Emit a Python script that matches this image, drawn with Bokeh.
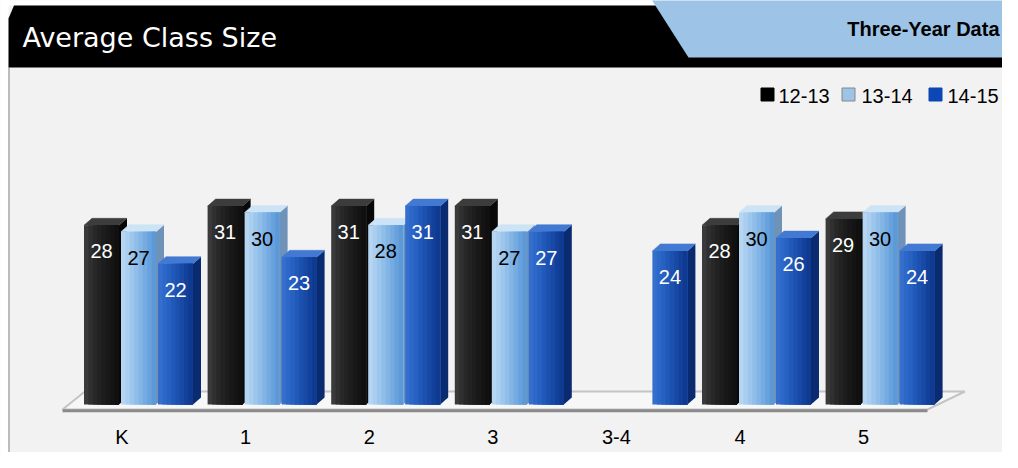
from bokeh.plotting import figure
from bokeh.models import Range1d
from bokeh.core.properties import value
from bokeh.embed import file_html
from bokeh.resources import INLINE

# ---------------- data ----------------
categories = ["K", "1", "2", "3", "3-4", "4", "5"]
series_names = ["12-13", "13-14", "14-15"]
vals_1213 = [28, 31, 31, 31, None, 28, 29]
vals_1314 = [27, 30, 28, 27, None, 30, 30]
vals_1415 = [22, 23, 31, 27, 24, 26, 24]
title_text = "Average Class Size"
tab_text = "Three-Year Data"

# ---------------- geometry / style ----------------
W, H = 1002, 452
px_x = 123.6          # pixels per category
px_y = 6.4            # pixels per unit of class size
X0 = -121.5 / px_x
X1 = X0 + W / px_x
Y1 = 404 / px_y
Y0 = Y1 - H / px_y


def X(img_x):
    return X0 + img_x / px_x


def Y(img_y):
    return Y1 - img_y / px_y


p = figure(width=W, height=H, output_backend="svg", toolbar_location=None,
           x_axis_type=None, y_axis_type=None, min_border=0,
           x_range=Range1d(X0, X1), y_range=Range1d(Y0, Y1))
p.outline_line_color = None
p.background_fill_color = "#f2f2f2"
p.border_fill_color = "#f2f2f2"
p.grid.visible = False

# white page around the panel
p.patch([X(-5), X(8), X(8), X(-5)], [Y(-5), Y(-5), Y(470), Y(470)],
        fill_color="white", line_color=None)
p.patch([X(-5), X(1020), X(1020), X(-5)], [Y(-5), Y(-5), Y(5), Y(5)],
        fill_color="white", line_color=None)
# panel border
p.line([X(8.5), X(8.5)], [Y(67), Y(470)], line_color="#a8a8a8", line_width=1.5)

# header: black band
p.patch([X(8), X(13.5), X(1020), X(1020), X(8)],
        [Y(18), Y(5), Y(5), Y(67), Y(67)], fill_color="black", line_color=None)
# header: light blue tab
p.patch([X(651), X(1008), X(1020), X(1020), X(688)],
        [Y(-1), Y(-1), Y(10), Y(57), Y(57)], fill_color="#9dc3e6", line_color=None)

p.text([X(22)], [Y(37)], text=[title_text], text_color="white",
       text_font=value("DejaVu Sans"), text_font_size="27px",
       text_baseline="middle", text_align="left")
p.text([X(999)], [Y(28)], text=[tab_text], text_color="black",
       text_font=value("Liberation Sans"), text_font_size="20px",
       text_font_style="bold", text_baseline="middle", text_align="right")

# floor slab
ncat = len(categories)
fl, fr = -0.481, ncat - 1 + 0.517
bl, br = -0.30, ncat - 1 + 0.82
yf, yb = -0.78, 2.03
p.patch([fl, bl, br, fr], [yf, yb, yb, yf], fill_color="#f7f7f7",
        line_color="#c4c4c4", line_width=2)
p.line([fl, fr], [yf - 0.2, yf - 0.2], line_color="#8a8a8a", line_width=3)

# bars
group_off = 16.5 / px_x
step = 37 / px_x
bw = 35 / px_x
ddx = 8 / px_x
ddy = 7 / px_y
nstrip = 8

styles = [
    dict(front=["#3a3a3a", "#303030", "#282828", "#222222", "#1d1d1d", "#181818", "#141414", "#101010"],
         side="#080808", top="#3c3c3c", label="white"),
    dict(front=["#b6d5f2", "#aacef0", "#9dc6ec", "#90bee9", "#82b4e5", "#75abe1", "#68a2dc", "#5c99d6"],
         side="#6f93b8", top="#cde3f6", label="black"),
    dict(front=["#346fcf", "#2d68c9", "#2761c2", "#2159b9", "#1c51af", "#1749a5", "#12419b", "#0f3a90"],
         side="#0a2b70", top="#4279d2", label="white"),
]

all_vals = [vals_1213, vals_1314, vals_1415]
for s, (vals, st) in enumerate(zip(all_vals, styles)):
    xs, tops = [], []
    for i, v in enumerate(vals):
        if v is None:
            continue
        xs.append(i + group_off + (s - 1) * step)
        tops.append(v)
    # side faces
    p.patches([[x + bw / 2, x + bw / 2 + ddx, x + bw / 2 + ddx, x + bw / 2] for x in xs],
              [[0, ddy, t + ddy, t] for t in tops],
              fill_color=st["side"], line_color=None)
    # top faces
    p.patches([[x - bw / 2, x - bw / 2 + ddx, x + bw / 2 + ddx, x + bw / 2] for x in xs],
              [[t, t + ddy, t + ddy, t] for t in tops],
              fill_color=st["top"], line_color=st["top"], line_width=0.5)
    # front face with gradient: each strip runs from its left edge to the bar's right edge
    sw = bw / nstrip
    for k in range(nstrip):
        width_k = bw - k * sw
        p.vbar(x=[x + bw / 2 - width_k / 2 for x in xs], top=tops, bottom=0,
               width=width_k, fill_color=st["front"][k], line_color=None)
    # value labels
    p.text(xs, tops, text=[str(t) for t in tops], text_color=st["label"],
           text_font=value("Liberation Sans"), text_font_size="20px",
           text_align="center", text_baseline="middle", y_offset=26)

# category labels
p.text(list(range(ncat)), [0] * ncat, text=categories, text_color="black",
       text_font=value("Liberation Sans"), text_font_size="20px",
       text_align="center", text_baseline="middle", y_offset=32)

# legend
leg_sq_x = [767, 848, 935]
leg_tx_x = [778, 861, 947]
sq_colors = ["#000000", "#9dc3e6", "#0b47b5"]
sq_lines = ["#000000", "#888888", "#0b47b5"]
for k in range(3):
    p.scatter([X(leg_sq_x[k])], [Y(94)], marker="square", size=13,
              fill_color=sq_colors[k], line_color=sq_lines[k], line_width=1)
    p.text([X(leg_tx_x[k])], [Y(95)], text=[series_names[k]], text_color="black",
           text_font=value("Liberation Sans"), text_font_size="20px",
           text_align="left", text_baseline="middle")

open("out.html", "w").write(file_html(p, INLINE))
